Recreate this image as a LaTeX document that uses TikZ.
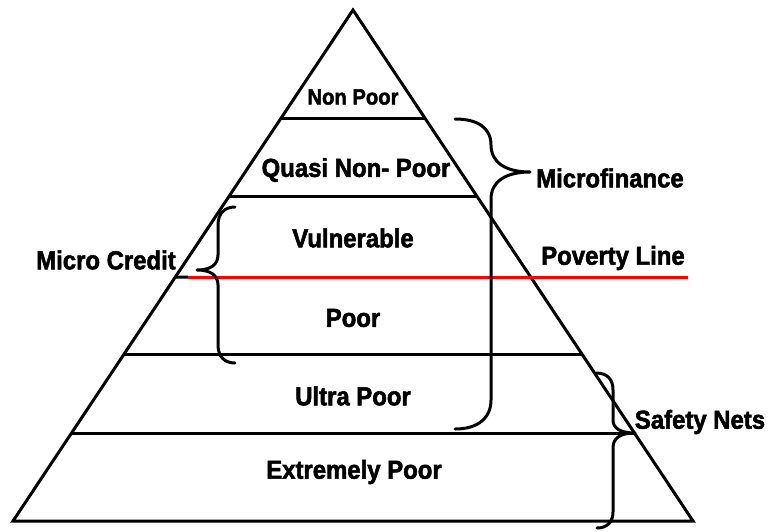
\documentclass[tikz,border=0pt]{standalone}
\usepackage{fontspec}
\setmainfont{Liberation Sans}
\newfontfamily\heavyfont{Liberation Sans Bold}[FakeBold=2,FakeStretch=0.92]
\usetikzlibrary{calc}
\definecolor{povred}{RGB}{255,0,0}
\begin{document}
\begin{tikzpicture}[x=1pt,y=-1pt,
  tier/.style={line width=3pt},
  bracepath/.style={line width=3pt,line cap=round,line join=round},
  lbl/.style={font=\heavyfont\fontsize{26}{29}\selectfont,inner sep=0pt},
  smalllbl/.style={font=\heavyfont\fontsize{22}{25}\selectfont,inner sep=0pt}]
\useasboundingbox (0,0) rectangle (770,531);

% pyramid outline
\coordinate (apex) at (353,10);
\coordinate (bl) at (13,521);
\coordinate (br) at (693,521);
\draw[tier,line join=miter] (bl) -- (apex) -- (br) -- cycle;

% tier boundaries
\foreach \t in {0.2114,0.364,0.675,0.8278}
  \draw[tier] ($(apex)!\t!(bl)$) -- ($(apex)!\t!(br)$);

% poverty line
\coordinate (pvL) at ($(apex)!0.5225!(bl)$);
\coordinate (pvM) at (188,277);
\coordinate (pvR) at (688,277);
\draw[tier] (pvL) -- (pvM);
\draw[tier,povred] (pvM) -- (pvR);

% tier labels
\node[smalllbl] (nonpoor) at (353,97) {Non Poor};
\node[lbl] (quasi) at (356,170) {Quasi Non- Poor};
\node[lbl] (vuln) at (353,238) {Vulnerable};
\node[lbl] (poor) at (353,318) {Poor};
\node[lbl] (ultra) at (353,396) {Ultra Poor};
\node[lbl] (extreme) at (354,472) {Extremely Poor};

% side labels
\node[lbl] (mcredit) at (106,260) {Micro Credit};
\node[lbl] (mfin) at (610,178) {Microfinance};
\node[lbl] (povline) at (613,258) {Poverty Line};
\node[lbl] (safety) at (700,422) {Safety Nets};

% microfinance brace
\coordinate (mfTop) at (455,119);
\coordinate (mfTip) at (530,172);
\coordinate (mfBot) at (455,429);
\draw[bracepath] (mfTop) .. controls (478,119) and (491,128) .. (491,145)
  .. controls (491,162) and (505,172) .. (mfTip)
  .. controls (505,172) and (491,182) .. (491,199)
  -- (491,400) .. controls (491,418) and (478,429) .. (mfBot);

% micro credit brace
\coordinate (mcTop) at (235,207);
\coordinate (mcTip) at (197,270);
\coordinate (mcBot) at (235,363);
\draw[bracepath] (mcTop) .. controls (225,207) and (218,213) .. (218,225)
  -- (218,255) .. controls (218,265) and (210,270) .. (mcTip)
  .. controls (210,270) and (218,275) .. (218,285)
  -- (218,345) .. controls (218,357) and (225,363) .. (mcBot);

% safety nets brace
\coordinate (snTop) at (596,373);
\coordinate (snTip) at (635,433);
\coordinate (snBot) at (597,528);
\draw[bracepath] (snTop) .. controls (608,373) and (613,380) .. (613,390)
  -- (613,420) .. controls (613,428) and (620,433) .. (snTip)
  .. controls (620,433) and (613,438) .. (613,448)
  -- (613,512) .. controls (613,522) and (607,528) .. (snBot);
\end{tikzpicture}
\end{document}
